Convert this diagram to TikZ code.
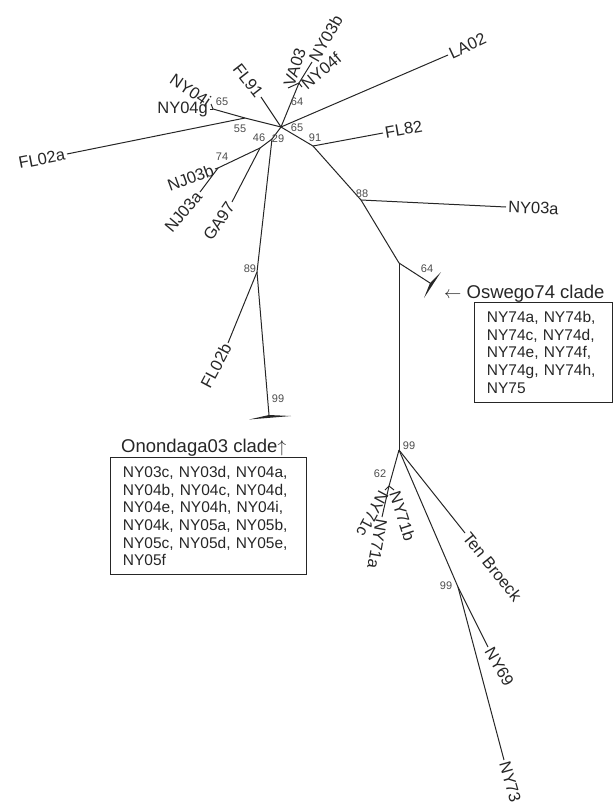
\documentclass[tikz,border=0pt]{standalone}
\usepackage{fontspec}
\setmainfont{Liberation Sans}
\definecolor{ink}{gray}{0.15}
\definecolor{bootgray}{gray}{0.3}
\tikzset{
  branch/.style={line width=1pt, draw=ink},
  taxon/.style={font=\fontsize{16.5}{19}\selectfont, text=ink, inner sep=2pt},
  boot/.style={font=\fontsize{11}{13}\selectfont, text=bootgray, inner sep=0pt},
  cladename/.style={font=\fontsize{18.5}{21}\selectfont, text=ink, inner sep=0pt},
  members/.style={draw=ink, line width=0.9pt, font=\fontsize{15.5}{17.6}\selectfont,
    text=ink, align=left, anchor=north west, inner xsep=12.5pt, inner ysep=9pt},
}
\begin{document}
\begin{tikzpicture}[x=1pt,y=-1pt]
\useasboundingbox (0,0) rectangle (613,804);
% inner nodes
\coordinate (A) at (281,127);
\coordinate (H) at (299,83);
\coordinate (B) at (313,146);
\coordinate (C) at (361,200);
\coordinate (D) at (399,263);
\coordinate (Q) at (430,283);
\coordinate (E) at (399,450);
\coordinate (F) at (389,486);
\coordinate (G) at (458,587);
\coordinate (J) at (245,118);
\coordinate (K) at (213,109);
\coordinate (L) at (272,139);
\coordinate (N) at (260,148);
\coordinate (O) at (218,168);
\coordinate (M) at (257,272);
\coordinate (P) at (269,415);
% tips
\coordinate (va03) at (288,88);
\coordinate (ny04f) at (302,87);
\coordinate (ny03b) at (312,62);
\coordinate (fl91) at (261,97);
\coordinate (la02) at (448,55);
\coordinate (fl82) at (383,133);
\coordinate (ny03a) at (506,207);
\coordinate (ny71b) at (394,490);
\coordinate (ny71c) at (385,490);
\coordinate (ny71a) at (382,517);
\coordinate (tenb) at (465,533);
\coordinate (ny69) at (488,647);
\coordinate (ny73) at (504,760);
\coordinate (ny04g) at (210,109);
\coordinate (ny04i) at (211,104);
\coordinate (fl02a) at (67,154);
\coordinate (nj03b) at (215,169);
\coordinate (nj03a) at (200,192);
\coordinate (ga97) at (232,202);
\coordinate (fl02b) at (228,343);
%%%%
\foreach \a/\b in {A/H,H/va03,H/ny04f,H/ny03b,A/fl91,A/la02,A/B,B/fl82,B/C,C/ny03a,
  C/D,D/Q,D/E,E/F,F/ny71b,F/ny71c,F/ny71a,E/tenb,E/G,G/ny69,G/ny73,A/J,J/K,
  K/ny04g,K/ny04i,J/fl02a,A/L,L/N,N/O,O/nj03b,O/nj03a,N/ga97,L/M,M/fl02b,M/P}
\draw[branch] (\a) -- (\b);
% collapsed clades
\fill[ink] (P) -- (249,419.5) -- (291,416) -- cycle;
\fill[ink] (Q) -- (424,298) -- (441,272) -- cycle;
%%%%
\node[taxon,anchor=west,rotate=72] (tVA03) at (va03) {VA03};
\node[taxon,anchor=west,rotate=40] (tNY04f) at (ny04f) {NY04f};
\node[taxon,anchor=west,rotate=60] (tNY03b) at (ny03b) {NY03b};
\node[taxon,anchor=east,rotate=-52] (tFL91) at (fl91) {FL91};
\node[taxon,anchor=west,rotate=25] (tLA02) at (la02) {LA02};
\node[taxon,anchor=west,rotate=10] (tFL82) at (fl82) {FL82};
\node[taxon,anchor=west,rotate=-2] (tNY03a) at (ny03a) {NY03a};
\node[taxon,anchor=west,rotate=-72] (tNY71b) at (ny71b) {NY71b};
\node[taxon,anchor=west,rotate=-118] (tNY71c) at (ny71c) {NY71c};
\node[taxon,anchor=west,rotate=-100] (tNY71a) at (ny71a) {NY71a};
\node[taxon,anchor=west,rotate=-51] (tTenB) at (tenb) {Ten Broeck};
\node[taxon,anchor=west,rotate=-60] (tNY69) at (ny69) {NY69};
\node[taxon,anchor=west,rotate=-74] (tNY73) at (ny73) {NY73};
\node[taxon,anchor=east] (tNY04g) at (ny04g) {NY04g};
\node[taxon,anchor=east,rotate=-34] (tNY04i) at (ny04i) {NY04i};
\node[taxon,anchor=east,rotate=11] (tFL02a) at (fl02a) {FL02a};
\node[taxon,anchor=east,rotate=20] (tNJ03b) at (nj03b) {NJ03b};
\node[taxon,anchor=east,rotate=50] (tNJ03a) at (nj03a) {NJ03a};
\node[taxon,anchor=east,rotate=56] (tGA97) at (ga97) {GA97};
\node[taxon,anchor=east,rotate=62] (tFL02b) at (fl02b) {FL02b};
% bootstrap values
\foreach \x/\y/\t [count=\i] in {222/102/65,240/129/55,297/102/64,297/128/65,315/138/91,
  259/138/46,278/139/29,222/157/74,362/194/88,427/269/64,250/269/89,278/399/99,
  409/446/99,380/474/62,446/586/99}
\node[boot] (bs\i) at (\x,\y) {\t};
%%%%
\node[cladename,anchor=base west] (onondaga) at (121,452) {Onondaga03 clade$\uparrow$};
\node[members,text width=171pt] (ononlist) at (110,457)
  {NY03c, NY03d, NY04a,\\NY04b, NY04c, NY04d,\\NY04e, NY04h, NY04i,\\NY04k, NY05a, NY05b,\\NY05c, NY05d, NY05e,\\NY05f};
\node[cladename,anchor=base west] (oswego) at (444,298) {$\leftarrow$ Oswego74 clade};
\node[members,text width=113pt] (oswlist) at (474,302)
  {NY74a, NY74b,\\NY74c, NY74d,\\NY74e, NY74f,\\NY74g, NY74h,\\NY75};
\end{tikzpicture}
\end{document}
